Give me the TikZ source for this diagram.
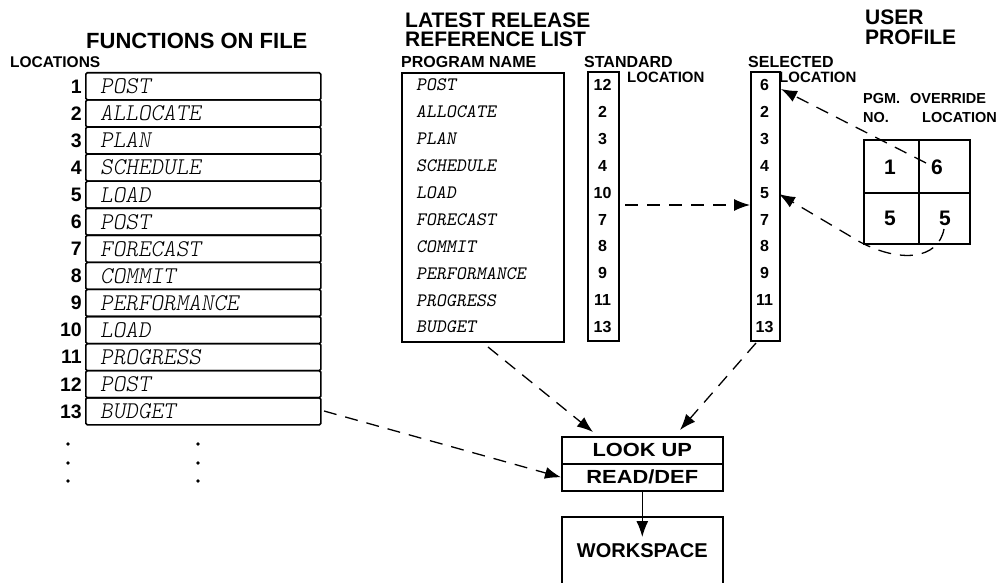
\documentclass[tikz,border=0pt]{standalone}
\usepackage{fontspec}
\usetikzlibrary{arrows.meta}
\newfontfamily\hv{Liberation Sans}
\newfontfamily\hvw{Liberation Sans}[FakeStretch=1.15]
\tikzset{
  box/.style={draw, line width=1.6pt, inner sep=0pt},
  rowbox/.style={box, rounded corners=1.5pt, minimum width=235pt, minimum height=27.08pt, anchor=north west},
  fitem/.style={font=\ttfamily\fontseries{l}\slshape\fontsize{24}{24}\selectfont, inner sep=0pt, anchor=west},
  ritem/.style={font=\ttfamily\slshape\fontsize{19}{19}\selectfont, inner sep=0pt, anchor=west},
  lnum/.style={font=\hv\bfseries\fontsize{19.5}{19.5}\selectfont, inner sep=0pt, anchor=east},
  cnum/.style={font=\hv\bfseries\fontsize{16}{16}\selectfont, inner sep=0pt},
  gnum/.style={font=\hv\bfseries\fontsize{21}{21}\selectfont, inner sep=0pt},
  ttl/.style={font=\hv\bfseries\fontsize{21}{21}\selectfont, inner sep=0pt, anchor=base west},
  lbl/.style={font=\hv\bfseries\fontsize{16}{16}\selectfont, inner sep=0pt, anchor=base west},
  plbl/.style={font=\hv\bfseries\fontsize{14.5}{14.5}\selectfont, inner sep=0pt, anchor=base west},
  bigtxt/.style={font=\hvw\bfseries\fontsize{19}{19}\selectfont},
  darr/.style={line width=1.3pt, dash pattern=on 13pt off 9pt, -{Latex[length=16pt,width=12pt]}},
  sarr/.style={line width=1.2pt, -{Latex[length=16pt,width=12pt]}},
}
\begin{document}
\begin{tikzpicture}[x=1pt,y=-1pt]
\useasboundingbox (0,0) rectangle (1003,583);

% ---- Functions on file ----
\node[ttl, font=\hv\bfseries\fontsize{22}{22}\selectfont] (t1) at (86,49) {FUNCTIONS ON FILE};
\node[lbl, font=\hv\bfseries\fontsize{15.5}{15.5}\selectfont] (t2) at (10,68) {LOCATIONS};
\foreach \t [count=\i] in {POST,ALLOCATE,PLAN,SCHEDULE,LOAD,POST,FORECAST,COMMIT,PERFORMANCE,LOAD,PROGRESS,POST,BUDGET}{
  \node[rowbox] (fr\i) at (85,{72+(\i-1)*27.08}) {};
  \node[fitem] (ft\i) at ([xshift=15pt]fr\i.west) {\t};
  \node[lnum] (fn\i) at ([xshift=-3pt]fr\i.west) {\i};
}
\foreach \y in {444,463,481}{
  \fill (68,\y) circle (1.8pt);
  \fill (198,\y) circle (1.8pt);
}

% ---- Latest release reference list ----
\node[ttl] (t3) at (405,28) {LATEST RELEASE};
\node[ttl] (t4) at (405,47) {REFERENCE LIST};
\node[lbl] (t5) at (401,68) {PROGRAM NAME};
\node[lbl] (t6) at (584,68) {STANDARD};
\node[lbl, font=\hv\bfseries\fontsize{15}{15}\selectfont] (t7) at (627,83) {LOCATION};
\node[box, minimum width=162pt, minimum height=269pt, anchor=north west] (ref) at (401,72) {};
\foreach \t [count=\i] in {POST,ALLOCATE,PLAN,SCHEDULE,LOAD,FORECAST,COMMIT,PERFORMANCE,PROGRESS,BUDGET}{
  \node[ritem] (ri\i) at (416,{85+(\i-1)*26.9}) {\t};
}
\node[box, minimum width=31pt, minimum height=269pt, anchor=north west] (std) at (587,71) {};
\foreach \n [count=\i] in {12,2,3,4,10,7,8,9,11,13}{
  \node[cnum] (sn\i) at (602.5,{85+(\i-1)*26.9}) {\n};
}

% ---- Selected location ----
\node[lbl] (t8) at (748,68) {SELECTED};
\node[lbl, font=\hv\bfseries\fontsize{15}{15}\selectfont] (t9) at (779,83) {LOCATION};
\node[box, minimum width=29pt, minimum height=269pt, anchor=north west] (sel) at (750,71) {};
\foreach \n [count=\i] in {6,2,3,4,5,7,8,9,11,13}{
  \node[cnum] (ln\i) at (764.5,{85+(\i-1)*26.9}) {\n};
}

% ---- User profile ----
\node[ttl] (t10) at (865,25) {USER};
\node[ttl] (t11) at (865,45) {PROFILE};
\node[plbl] (t12) at (863,104) {PGM.};
\node[plbl] (t13) at (910,104) {OVERRIDE};
\node[plbl] (t14) at (863,122) {NO.};
\node[plbl] (t15) at (922,122) {LOCATION};
\node[box, minimum width=55pt, minimum height=53pt, anchor=north west] (g11) at (863,139) {};
\node[box, minimum width=51pt, minimum height=53pt, anchor=north west] (g12) at (918,139) {};
\node[box, minimum width=55pt, minimum height=51pt, anchor=north west] (g21) at (863,192) {};
\node[box, minimum width=51pt, minimum height=51pt, anchor=north west] (g22) at (918,192) {};
\node[gnum] (gn11) at (890,167) {1};
\node[gnum] (gn12) at (937,167) {6};
\node[gnum] (gn21) at (890,218) {5};
\node[gnum] (gn22) at (945,218) {5};

% ---- Look up / workspace ----
\node[box, bigtxt, minimum width=161pt, minimum height=27pt, anchor=north west] (look) at (561,436) {LOOK UP};
\node[box, bigtxt, minimum width=161pt, minimum height=27pt, anchor=north west] (read) at (561,463) {READ/DEF};
\node[box, font=\hv\bfseries\fontsize{20}{20}\selectfont, minimum width=161pt, minimum height=67pt, anchor=north west] (work) at (561,516) {WORKSPACE};

% ---- connectors ----
\coordinate (a1s) at (625,205);
\draw[darr] (a1s) -- (sel.west |- a1s);
\coordinate (a2s) at (926,163);
\coordinate (a2e) at (781,89);
\draw[darr] (a2s) -- (a2e);
\coordinate (a3s) at (944,229);
\coordinate (a3e) at (779,194);
\draw[darr] (a3s) .. controls (938,260) and (900,263) .. (860,242) -- (a3e);
\coordinate (a4s) at (488,347);
\coordinate (a4e) at (593,432);
\draw[darr] (a4s) -- (a4e);
\coordinate (a5s) at (756,343);
\coordinate (a5e) at (680,430);
\draw[darr] (a5s) -- (a5e);
\coordinate (a6s) at (324,411);
\draw[darr] (a6s) -- (read.west);
\draw[sarr] (read.south) -- ([yshift=-21pt]work.north);
\end{tikzpicture}
\end{document}
